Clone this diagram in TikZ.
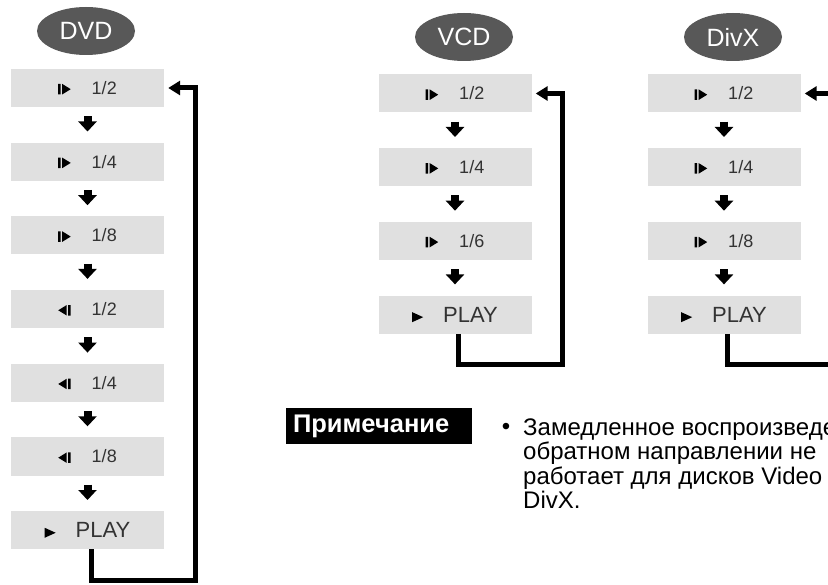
\documentclass[tikz,border=0pt]{standalone}
\usepackage{fontspec}
\setmainfont{Liberation Sans}
\usepackage{xcolor}
\usepackage{tikz}
\usetikzlibrary{arrows.meta, shapes.geometric}

\definecolor{boxgray}{HTML}{E0E0E0}
\definecolor{discgray}{HTML}{585858}
\definecolor{labelgray}{HTML}{333333}

% icons for the speed steps
\newsavebox{\fwdbox}
\newsavebox{\revbox}
\newsavebox{\playbox}
\newcommand{\fwd}{\usebox{\fwdbox}\hspace{21pt}}
\newcommand{\rev}{\usebox{\revbox}\hspace{21pt}}
\newcommand{\play}{\usebox{\playbox}\hspace{20pt}}
\newcommand{\tri}[6]{\pgfpathmoveto{\pgfpoint{#1pt}{#2pt}}%
  \pgfpathlineto{\pgfpoint{#3pt}{#4pt}}\pgfpathlineto{\pgfpoint{#5pt}{#6pt}}%
  \pgfpathclose}

\tikzset{
  speedbox/.style={fill=boxgray, minimum width=153pt, minimum height=38pt,
    inner sep=0pt, text=labelgray, font=\fontsize{18}{18}\selectfont},
  playbox/.style={speedbox, font=\fontsize{22}{22}\selectfont},
  disc/.style={ellipse, fill=discgray, minimum width=98pt, minimum height=48pt,
    inner sep=0pt, text=white, font=\fontsize{25}{25}\selectfont},
  stepdown/.style={line width=8pt, -{Triangle[width=18pt,length=10pt]},
    shorten <=9pt, shorten >=11pt},
  loopback/.style={line width=5pt, line join=miter,
    -{Triangle[width=14pt,length=12pt]}},
  notelabel/.style={fill=black, text=white, minimum height=33pt,
    text width=172pt, inner sep=7pt, align=left,
    font=\bfseries\fontsize{25.5}{25.5}\selectfont},
  notetext/.style={inner sep=0pt, align=left,
    font=\fontsize{24}{24.5}\selectfont},
}

\begin{document}
\sbox{\fwdbox}{\pgfpicture
  \pgfpathrectangle{\pgfpointorigin}{\pgfpoint{2.5pt}{10.5pt}}
  \tri{4}{0}{12.5}{5.25}{4}{10.5}\pgfusepath{fill}\endpgfpicture}
\sbox{\revbox}{\pgfpicture
  \tri{0}{5.25}{8.5}{0}{8.5}{10.5}
  \pgfpathrectangle{\pgfpoint{10pt}{0pt}}{\pgfpoint{2.5pt}{10.5pt}}
  \pgfusepath{fill}\endpgfpicture}
\sbox{\playbox}{\pgfpicture
  \tri{0}{0}{11}{5}{0}{10}\pgfusepath{fill}\endpgfpicture}
\begin{tikzpicture}[x=1pt, y=-1pt]
\useasboundingbox (0,0) rectangle (828,585);
\clip (0,0) rectangle (828,585);

% ── DVD ──────────────────────────────────────────────
\begin{scope}[shift={(87.5,0)}]
    \node[disc] (dvd) at (-1.5, 31) {DVD};

    \node[speedbox] (d1) at (0, 88.0) {\fwd 1/2};
    \node[speedbox] (d2) at (0, 161.7) {\fwd 1/4};
    \node[speedbox] (d3) at (0, 235.4) {\fwd 1/8};
    \node[speedbox] (d4) at (0, 309.1) {\rev 1/2};
    \node[speedbox] (d5) at (0, 382.8) {\rev 1/4};
    \node[speedbox] (d6) at (0, 456.5) {\rev 1/8};
    \node[playbox]  (d7) at (0, 530.2) {\play PLAY};

    \draw[stepdown] (d1) -- (d2);
    \draw[stepdown] (d2) -- (d3);
    \draw[stepdown] (d3) -- (d4);
    \draw[stepdown] (d4) -- (d5);
    \draw[stepdown] (d5) -- (d6);
    \draw[stepdown] (d6) -- (d7);

    % back to the first step
    \draw[loopback] ([xshift=3.5pt]d7.south) -- ++(0, 31)
        -| ([xshift=31pt]d1.east) -- ([xshift=4pt]d1.east);
\end{scope}

% ── VCD ──────────────────────────────────────────────
\begin{scope}[shift={(455,0)}]
    \node[disc] (vcd) at (9, 37) {VCD};

    \node[speedbox] (v1) at (0, 93.5) {\fwd 1/2};
    \node[speedbox] (v2) at (0, 167.2) {\fwd 1/4};
    \node[speedbox] (v3) at (0, 240.9) {\fwd 1/6};
    \node[playbox]  (v4) at (0, 314.6) {\play PLAY};

    \draw[stepdown] (v1) -- (v2);
    \draw[stepdown] (v2) -- (v3);
    \draw[stepdown] (v3) -- (v4);

    \draw[loopback] ([xshift=3.5pt]v4.south) -- ++(0, 31)
        -| ([xshift=31pt]v1.east) -- ([xshift=4pt]v1.east);
\end{scope}

% ── DivX ─────────────────────────────────────────────
\begin{scope}[shift={(724,0)}]
    \node[disc] (divx) at (9, 37) {DivX};

    \node[speedbox] (x1) at (0, 93.5) {\fwd 1/2};
    \node[speedbox] (x2) at (0, 167.2) {\fwd 1/4};
    \node[speedbox] (x3) at (0, 240.9) {\fwd 1/8};
    \node[playbox]  (x4) at (0, 314.6) {\play PLAY};

    \draw[stepdown] (x1) -- (x2);
    \draw[stepdown] (x2) -- (x3);
    \draw[stepdown] (x3) -- (x4);

    \draw[loopback] ([xshift=3.5pt]x4.south) -- ++(0, 31)
        -| ([xshift=31pt]x1.east) -- ([xshift=4pt]x1.east);
\end{scope}

% ── note ─────────────────────────────────────────────
\node[notelabel] (note) at (379, 426) {Примечание};
\node[notetext, anchor=base] (bullet) at (506, 435) {•};
% base of a multi-line node is its last line
\node[notetext, anchor=base west] (notebody) at (523, 508.5)
    {Замедленное воспроизведение\\обратном направлении не\\работает для дисков Video\\DivX.};

\end{tikzpicture}
\end{document}
